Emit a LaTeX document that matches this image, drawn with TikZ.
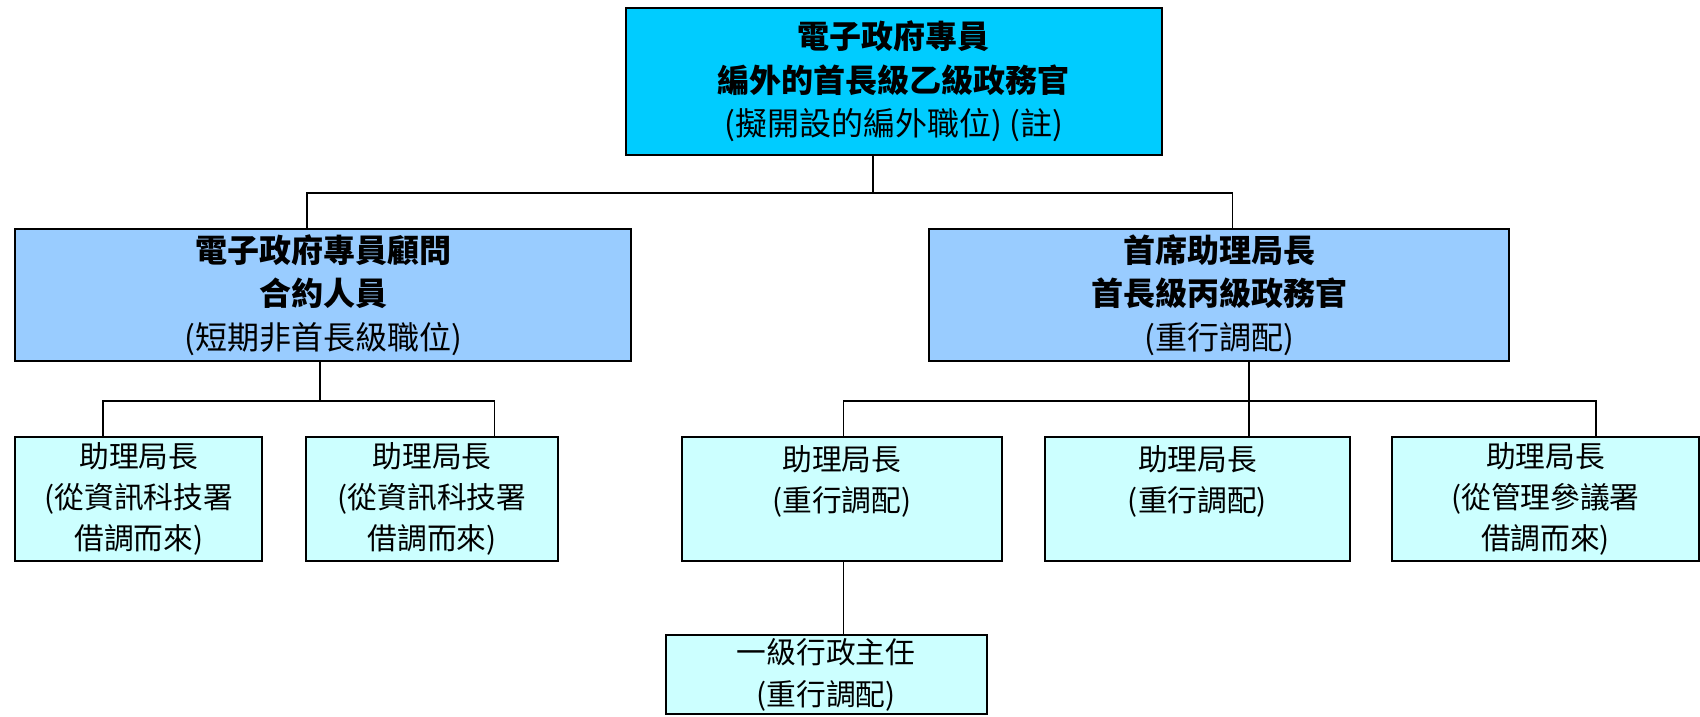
\documentclass[tikz,border=0pt]{standalone}
\usepackage{fontspec}
\setmainfont{Noto Sans CJK TC}
\definecolor{topc}{HTML}{00CCFF}
\definecolor{midc}{HTML}{99CCFF}
\definecolor{lowc}{HTML}{CCFFFF}
\begin{document}
\begin{tikzpicture}[x=0.025cm,y=-0.025cm,
  box/.style={draw=black, line width=1.3pt, inner sep=0pt, align=center},
  topbox/.style={box, fill=topc, minimum width=12.375cm, minimum height=3.4cm, font=\fontsize{21}{28.5}\selectfont},
  midbox/.style={box, fill=midc, minimum height=3.05cm, font=\fontsize{21}{28.5}\selectfont},
  lowbox/.style={box, fill=lowc, minimum height=2.85cm, font=\fontsize{19.5}{27}\selectfont},
  conn/.style={draw=black, line width=1pt}]
\useasboundingbox (0,0) rectangle (1568,661);
\fill[white] (0,0) rectangle (1568,661);

\node[topbox] (top) at (824.5,75) {\bfseries 電子政府專員\\\bfseries 編外的首長級乙級政務官\\(擬開設的編外職位) (註)};

\node[midbox, minimum width=14.2cm] (lm) at (298,272) {\bfseries 電子政府專員顧問\\\bfseries 合約人員\\(短期非首長級職位)};
\node[midbox, minimum width=13.375cm] (rm) at (1124.5,272) {\bfseries 首席助理局長\\\bfseries 首長級丙級政務官\\(重行調配)};

\node[lowbox, minimum width=5.7cm] (b1) at (128,460) {助理局長\\(從資訊科技署\\借調而來)};
\node[lowbox, minimum width=5.825cm] (b2) at (398.5,460) {助理局長\\(從資訊科技署\\借調而來)};
\node[lowbox, minimum width=7.375cm] (b3) at (776.5,460) {助理局長\\(重行調配)\\\mbox{}};
\node[lowbox, minimum width=7.025cm] (b4) at (1104.5,460) {助理局長\\(重行調配)\\\mbox{}};
\node[lowbox, minimum width=7.075cm] (b5) at (1425.5,460) {助理局長\\(從管理參議署\\借調而來)};

\node[lowbox, minimum width=7.4cm, minimum height=1.825cm] (bot) at (762,622.5) {一級行政主任\\(重行調配)};

\coordinate (t0) at (805,178);
\coordinate (hL) at (283,178);
\coordinate (hR) at (1137,178);
\draw[conn] (t0 |- top.south) -- (t0);
\draw[conn] (hL |- lm.north) -- (hL) -- (hR) -- (hR |- rm.north);

\coordinate (l0) at (295,370);
\coordinate (l1) at (95,370);
\coordinate (l2) at (456,370);
\draw[conn] (l0 |- lm.south) -- (l0);
\draw[conn] (l1 |- b1.north) -- (l1) -- (l2) -- (l2 |- b2.north);

\coordinate (r0) at (1152,370);
\coordinate (r1) at (778,370);
\coordinate (r2) at (1472,370);
\draw[conn] (r0 |- rm.south) -- (r0 |- b4.north);
\draw[conn] (r1 |- b3.north) -- (r1) -- (r2) -- (r2 |- b5.north);
\draw[conn] (r1 |- b3.south) -- (r1 |- bot.north);
\end{tikzpicture}
\end{document}
